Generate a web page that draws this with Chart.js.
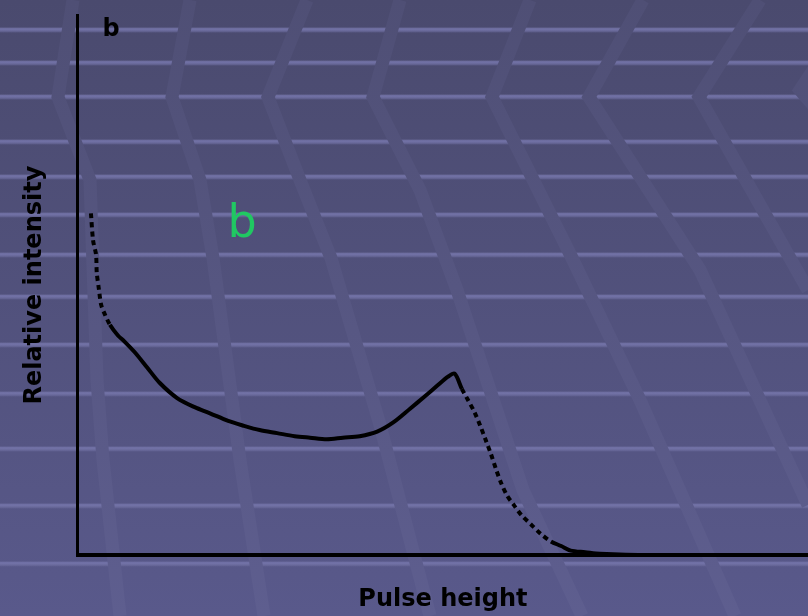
<!DOCTYPE html>
<html>
<head>
<meta charset="utf-8">
<script src="https://cdn.jsdelivr.net/npm/chart.js@4.4.1/dist/chart.umd.min.js"></script>
<style>
  html, body { margin: 0; padding: 0; background: #505080; }
  #wrap { width: 808px; height: 616px; }
</style>
</head>
<body>
<div id="wrap"><canvas id="spectrum" width="808" height="616"></canvas></div>
<script>
// pulse height spectrum
const pulseHeight = [1.8, 2.1, 2.5, 2.6, 2.9, 3.2, 3.6, 4.4, 5.5, 6.4, 7.8, 9.5, 11.2, 13.6, 16.0,
  18.1, 20.6, 22.6, 24.9, 27.3, 29.7, 31.8, 34.1, 36.3, 38.6, 41.0, 43.2, 45.5, 47.5, 49.2,
  50.7, 51.6, 52.6, 53.4, 54.3, 55.1, 55.9, 56.6, 57.3, 58.0, 58.8, 59.7, 60.8, 62.1, 63.4,
  64.8, 66.2, 67.5, 69.5, 71.5, 78.4, 90.0, 100.0];
const intensity = [2.24, 2.06, 1.97, 1.85, 1.74, 1.64, 1.59, 1.51, 1.44, 1.40, 1.33, 1.23, 1.13, 1.03, 0.97,
  0.93, 0.88, 0.85, 0.82, 0.80, 0.78, 0.77, 0.76, 0.77, 0.78, 0.81, 0.87, 0.96, 1.04, 1.11,
  1.17, 1.19, 1.09, 1.02, 0.94, 0.85, 0.75, 0.66, 0.56, 0.47, 0.39, 0.33, 0.26, 0.20, 0.14,
  0.09, 0.06, 0.03, 0.02, 0.01, 0.0, 0.0, 0.0];
const yMax = 3.54;

const points = pulseHeight.map((x, i) => ({ x: x, y: intensity[i] }));

// slide background: gradient, light horizontal stripes, faint chevron bands
const stripeY = [30, 63, 97, 142, 177, 215, 255, 297, 345, 394, 449, 506, 564];
const bands = [
  [[73, 0], [58, 97], [90, 180], [97, 380], [103, 460], [120, 616]],
  [[190, 0], [172, 97], [200, 180], [213, 258], [240, 460], [264, 616]],
  [[307, 0], [268, 97], [300, 180], [331, 258], [380, 425], [430, 616]],
  [[400, 0], [373, 97], [420, 190], [457, 290], [490, 390], [523, 490], [582, 616]],
  [[530, 0], [492, 97], [572, 258], [640, 400], [735, 616]],
  [[643, 0], [589, 97], [700, 270], [808, 505]],
  [[760, 0], [699, 97], [808, 290]],
  [[860, 0], [800, 90], [860, 160]]
];

const slideBackground = {
  id: 'slideBackground',
  beforeDraw(chart) {
    const { ctx, width, height } = chart;
    ctx.save();
    const bg = ctx.createLinearGradient(0, 0, 0, height);
    bg.addColorStop(0, '#4a4a6e');
    bg.addColorStop(1, '#59598b');
    ctx.fillStyle = bg;
    ctx.fillRect(0, 0, width, height);

    stripeY.forEach(y => {
      const g = ctx.createLinearGradient(0, y - 3, 0, y + 3);
      g.addColorStop(0, 'rgba(120,120,170,0.0)');
      g.addColorStop(0.3, 'rgba(118,118,172,0.95)');
      g.addColorStop(0.7, 'rgba(110,110,160,0.8)');
      g.addColorStop(1, 'rgba(100,100,150,0.0)');
      ctx.fillStyle = g;
      ctx.fillRect(0, y - 3, width, 6);
    });

    const bandCol = ctx.createLinearGradient(0, 0, 0, height);
    bandCol.addColorStop(0, '#4f4f75');
    bandCol.addColorStop(1, '#5e5e8f');
    ctx.strokeStyle = bandCol;
    ctx.lineWidth = 13;
    ctx.lineJoin = 'miter';
    bands.forEach(b => {
      ctx.beginPath();
      b.forEach((p, i) => i ? ctx.lineTo(p[0], p[1]) : ctx.moveTo(p[0], p[1]));
      ctx.stroke();
    });
    ctx.restore();
  }
};

const panelLabels = {
  id: 'panelLabels',
  afterDraw(chart) {
    const { ctx } = chart;
    ctx.save();
    ctx.textBaseline = 'alphabetic';
    ctx.textAlign = 'center';
    ctx.fillStyle = '#000';
    ctx.font = 'bold 24px "DejaVu Sans"';
    ctx.fillText('b', 111, 36);
    ctx.fillStyle = '#20c862';
    ctx.font = '46px "DejaVu Sans"';
    ctx.fillText('b', 242, 237);
    ctx.restore();
  }
};

new Chart(document.getElementById('spectrum'), {
  type: 'line',
  data: {
    datasets: [{
      data: points,
      borderColor: '#000',
      borderWidth: 4,
      pointRadius: 0,
      tension: 0.3,
      fill: false,
      segment: {
        borderDash: c => (c.p0.parsed.x < 4 || c.p0.parsed.x > 52 && c.p0.parsed.x < 64) ? [5, 4] : undefined
      }
    }]
  },
  options: {
    responsive: false,
    animation: false,
    layout: { padding: { top: 15, left: 4, right: 0, bottom: 0 } },
    plugins: { legend: { display: false }, tooltip: { enabled: false } },
    scales: {
      x: {
        type: 'linear',
        min: 0,
        max: 100,
        grid: { display: false, drawTicks: false },
        border: { display: true, color: '#000', width: 4 },
        ticks: { display: false },
        title: {
          display: true,
          text: 'Pulse height',
          color: '#000',
          font: { family: 'DejaVu Sans', size: 24, weight: 'bold' },
          padding: { top: 30, bottom: 2 }
        }
      },
      y: {
        min: 0,
        max: yMax,
        grid: { display: false, drawTicks: false },
        border: { display: true, color: '#000', width: 3 },
        ticks: { display: false },
        title: {
          display: true,
          text: 'Relative intensity',
          color: '#000',
          font: { family: 'DejaVu Sans', size: 24, weight: 'bold' },
          padding: { top: 16, bottom: 29 }
        }
      }
    }
  },
  plugins: [slideBackground, panelLabels]
});
</script>
</body>
</html>
